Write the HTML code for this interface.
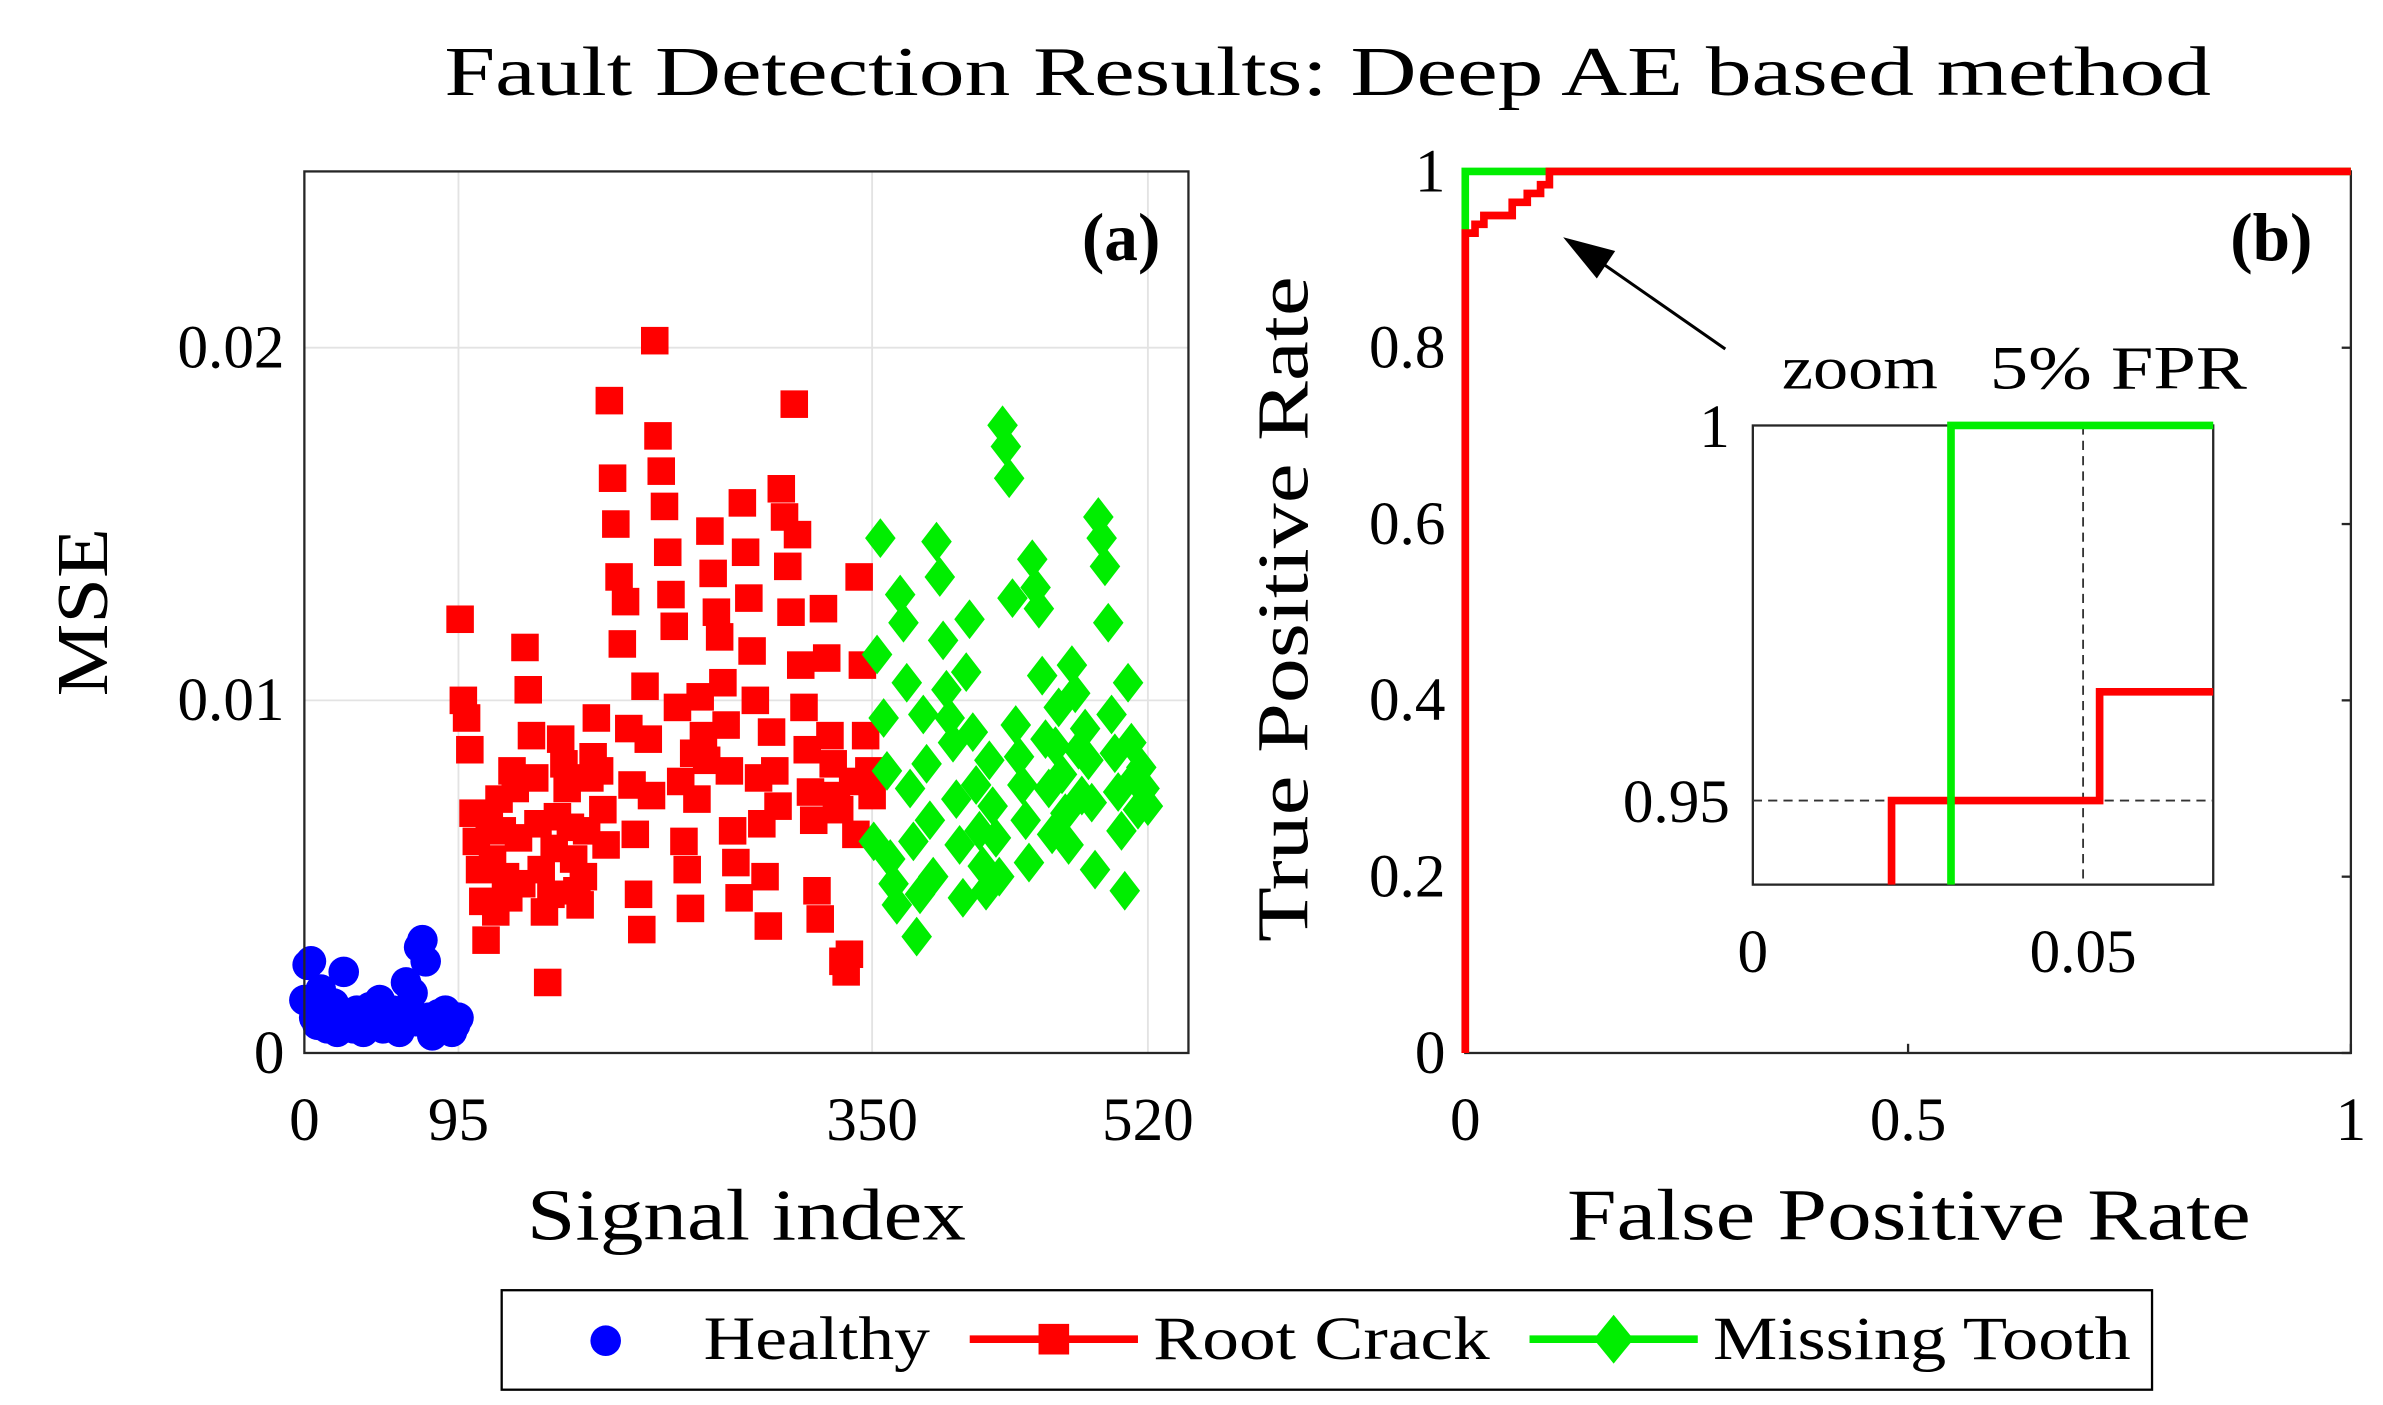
<!DOCTYPE html>
<html><head><meta charset="utf-8">
<style>
html,body{margin:0;padding:0;background:#fff;}
svg{display:block;font-family:"Liberation Serif","DejaVu Serif",serif;}
</style></head>
<body>
<svg id="fig" width="2383" height="1405" viewBox="0 0 1558 918" preserveAspectRatio="none" xmlns="http://www.w3.org/2000/svg">
<text x="868" y="62" font-size="46" text-anchor="middle" textLength="1155" lengthAdjust="spacingAndGlyphs">Fault Detection Results: Deep AE based method</text>
<g id="pa"></g>
<g id="pb"></g>
<g id="leg">
<rect x="328" y="843" width="1079" height="65" fill="#fff" stroke="#000" stroke-width="1.5"/>
<circle cx="396" cy="876" r="10" fill="#0000ff"/>
<text x="460" y="888" font-size="40" textLength="148" lengthAdjust="spacingAndGlyphs">Healthy</text>
<line x1="634" y1="875" x2="744" y2="875" stroke="#ff0000" stroke-width="5"/>
<rect x="679" y="865" width="20" height="20" fill="#ff0000"/>
<text x="754" y="888" font-size="40" textLength="220" lengthAdjust="spacingAndGlyphs">Root Crack</text>
<line x1="1000" y1="875" x2="1110" y2="875" stroke="#00ee00" stroke-width="5"/>
<polygon points="1055,859 1068,875 1055,891 1042,875" fill="#00ee00"/>
<text x="1120" y="888" font-size="40" textLength="273" lengthAdjust="spacingAndGlyphs">Missing Tooth</text>
</g>
</svg>
<script>
// ---- Panel (a) data (MSE in units of 1e-3) ----
const healthyRange = [0, 95];
const healthyMSE = [1.5,2.5,2.6,1.0,0.8,1.8,1.2,0.7,0.9,1.4,0.6,1.0,2.3,1.1,0.8,0.7,1.2,0.9,0.6,1.0,1.3,0.8,0.9,1.5,0.7,1.1,0.9,1.2,0.8,0.6,1.0,2.0,1.3,1.7,0.9,3.0,3.2,2.6,1.0,0.5,0.8,1.1,0.7,1.2,0.9,0.6,0.8,1.0];
const crackRange = [96, 350];
const crackMSE = [12.3,10.0,9.5,8.6,6.8,6.0,5.2,4.3,3.2,6.5,5.5,4.0,7.2,6.3,5.0,4.4,8.0,7.5,6.1,4.8,11.5,10.3,9.0,7.8,6.5,5.2,4.0,2.0,4.5,5.8,6.7,8.9,8.2,7.5,6.4,5.5,4.6,4.2,5.0,6.3,7.8,8.4,9.5,8.0,6.9,5.9,18.5,16.3,15.0,13.5,11.6,12.8,9.2,7.6,6.2,4.5,3.5,10.4,8.9,7.3,20.2,17.5,16.5,15.5,14.2,13.0,12.1,9.8,7.7,6.0,5.2,4.1,8.5,7.2,10.1,9.0,8.3,14.8,13.6,12.5,11.8,10.5,9.3,8.0,6.3,5.4,4.4,15.6,14.2,12.9,11.4,10.0,7.8,6.5,5.0,3.6,9.1,8.0,7.0,16.0,15.2,13.8,12.5,18.4,14.7,11.0,9.8,8.6,7.4,6.6,4.6,3.8,12.6,11.2,9.0,8.2,7.3,6.9,2.6,2.3,2.8,7.7,6.2,13.5,11.0,9.0,8.0,7.3];
const toothRange = [351, 520];
const toothMSE = [6.0,11.3,14.6,9.5,8.0,5.5,4.8,4.2,13.0,12.2,10.5,7.5,6.0,3.3,4.5,9.6,8.2,6.6,5.0,14.5,13.5,11.7,10.3,9.5,8.8,7.2,5.9,4.4,10.8,12.3,9.1,7.6,6.3,5.3,4.6,8.3,7.0,6.1,5.0,17.8,17.2,16.3,12.9,9.3,8.4,7.6,6.6,5.4,14.0,13.2,12.6,10.7,8.9,7.5,6.2,8.7,9.8,7.9,6.8,5.9,11.0,10.2,8.6,7.3,9.2,8.3,7.1,5.2,15.2,14.6,13.8,12.2,9.6,8.5,7.4,6.3,4.6,10.5,8.8,7.8,6.9,8.1,7.5,7.0];
const aXTicks = [0, 95, 350, 520];
const aYTicks = [0, 0.01, 0.02];
const aYLabels = ["0", "0.01", "0.02"];

// ---- Panel (b) data ----
const bXTicks = [0, 0.5, 1];
const bXLabels = ["0", "0.5", "1"];
const bYTicks = [0, 0.2, 0.4, 0.6, 0.8, 1];
const bYLabels = ["0", "0.2", "0.4", "0.6", "0.8", "1"];
const redFPR = [0, 0, 0.011, 0.011, 0.021, 0.021, 0.053, 0.053, 0.07, 0.07, 0.085, 0.085, 0.095, 0.095, 0.11, 1];
const redTPR = [0, 0.93, 0.93, 0.94, 0.94, 0.95, 0.95, 0.965, 0.965, 0.975, 0.975, 0.985, 0.985, 1, 1, 1];
const greenFPR = [0, 0, 1];
const greenTPR = [0, 1, 1];
// inset (zoomed) curves
const insetRedFPR = [0.021, 0.021, 0.0525, 0.0525, 0.0697];
const insetRedTPR = [0.93, 0.95, 0.95, 0.9645, 0.9645];
const insetGreenFPR = [0.03, 0.03, 0.0697];
const insetGreenTPR = [0.93, 1, 1];
const insetXTicks = [0, 0.05];
const insetXLabels = ["0", "0.05"];
const insetYTicks = [0.95, 1];
const insetYLabels = ["0.95", "1"];

const NS = "http://www.w3.org/2000/svg";
function mk(parent, tag, attrs, text) {
  const e = document.createElementNS(NS, tag);
  for (const k in attrs) e.setAttribute(k, attrs[k]);
  if (text !== undefined) e.textContent = text;
  parent.appendChild(e);
  return e;
}

// ---------- Panel A ----------
const pa = document.getElementById('pa');
const A = {l:199, r:777, t:112, b:688, xmax:545, ymax:0.025};
const ax = v => A.l + v / A.xmax * (A.r - A.l);
const ay = v => A.b - v / A.ymax * (A.b - A.t);
let e;
e = mk(pa, 'rect', {x:A.l, y:A.t, width:A.r-A.l, height:A.b-A.t, fill:'#fff'});


aXTicks.forEach(v => {
  if (v > 0) {
    e = mk(pa, 'line', {x1:ax(v), x2:ax(v), y1:A.t, y2:A.b, stroke:'#e3e3e3', 'stroke-width':1.2});
    
    
  }
  e = mk(pa, 'text', {x:ax(v), y:745, 'font-size':40, 'text-anchor':'middle'}, String(v));
  
  
});
aYTicks.forEach((v, i) => {
  if (v > 0) {
    e = mk(pa, 'line', {x1:A.l, x2:A.r, y1:ay(v), y2:ay(v), stroke:'#e3e3e3', 'stroke-width':1.2});
    
    
  }
  e = mk(pa, 'text', {x:186, y:ay(v)+13, 'font-size':40, 'text-anchor':'end'}, aYLabels[i]);
  
  
});
function spread(range, arr, i) { return range[0] + (arr.length > 1 ? i * (range[1]-range[0]) / (arr.length-1) : 0); }
healthyMSE.forEach((v, i) => {
  e = mk(pa, 'circle', {cx:ax(spread(healthyRange, healthyMSE, i)), cy:ay(v/1000), r:10, fill:'#0000ff'});
  
  
});
crackMSE.forEach((v, i) => {
  const x = ax(spread(crackRange, crackMSE, i)), y = ay(v/1000);
  e = mk(pa, 'rect', {x:x-9, y:y-9, width:18, height:18, fill:'#ff0000'});
  
  
});
toothMSE.forEach((v, i) => {
  const x = ax(spread(toothRange, toothMSE, i)), y = ay(v/1000);
  e = mk(pa, 'polygon', {points:`${x},${y-13} ${x+10},${y} ${x},${y+13} ${x-10},${y}`, fill:'#00ee00'});
  
  
});
e = mk(pa, 'rect', {x:A.l, y:A.t, width:A.r-A.l, height:A.b-A.t, fill:'none', stroke:'#262626', 'stroke-width':1.5});


e = mk(pa, 'text', {x:733, y:170, 'font-size':44, 'font-weight':'bold', 'text-anchor':'middle'}, '(a)');


e = mk(pa, 'text', {x:488, y:810, 'font-size':48, 'text-anchor':'middle', textLength:287, lengthAdjust:'spacingAndGlyphs'}, 'Signal index');


e = mk(pa, 'text', {x:0, y:0, 'font-size':48, 'text-anchor':'middle', textLength:110, lengthAdjust:'spacingAndGlyphs', transform:'translate(70,400) rotate(-90)'}, 'MSE');



// ---------- Panel B ----------
const pb = document.getElementById('pb');
const B = {l:958, r:1537, t:112, b:688};
const bx = v => B.l + v * (B.r - B.l);
const by = v => B.b - v * (B.b - B.t);
bXTicks.forEach((v, i) => {
  e = mk(pb, 'line', {x1:bx(v), x2:bx(v), y1:B.b, y2:B.b-6, stroke:'#262626', 'stroke-width':1.5});
  
  
  e = mk(pb, 'text', {x:bx(v), y:745, 'font-size':40, 'text-anchor':'middle'}, bXLabels[i]);
  
  
});
bYTicks.forEach((v, i) => {
  e = mk(pb, 'line', {x1:B.r, x2:B.r-6, y1:by(v), y2:by(v), stroke:'#262626', 'stroke-width':1.5});
  
  
  e = mk(pb, 'text', {x:945, y:by(v)+13, 'font-size':40, 'text-anchor':'end'}, bYLabels[i]);
  
  
});
e = mk(pb, 'rect', {x:B.l, y:B.t, width:B.r-B.l, height:B.b-B.t, fill:'none', stroke:'#262626', 'stroke-width':1.5});


function pts(fx, fy, X, Y) { return X.map((v, i) => fx(v) + ',' + fy(Y[i])).join(' '); }
e = mk(pb, 'polyline', {points:pts(bx, by, greenFPR, greenTPR), fill:'none', stroke:'#00ee00', 'stroke-width':5});


e = mk(pb, 'polyline', {points:pts(bx, by, redFPR, redTPR), fill:'none', stroke:'#ff0000', 'stroke-width':5});


e = mk(pb, 'text', {x:1485, y:170, 'font-size':44, 'font-weight':'bold', 'text-anchor':'middle'}, '(b)');


e = mk(pb, 'text', {x:1248, y:810, 'font-size':48, 'text-anchor':'middle', textLength:447, lengthAdjust:'spacingAndGlyphs'}, 'False Positive Rate');


e = mk(pb, 'text', {x:0, y:0, 'font-size':48, 'text-anchor':'middle', textLength:435, lengthAdjust:'spacingAndGlyphs', transform:'translate(855,398) rotate(-90)'}, 'True Positive Rate');


// arrow
e = mk(pb, 'line', {x1:1128, y1:228, x2:1036, y2:164, stroke:'#000', 'stroke-width':2});


e = mk(pb, 'polygon', {points:'1022,155 1056,164 1044,182', fill:'#000'});


// inset
const I = {l:1146, r:1447, t:278, b:578, x0:0, x1:0.0697, y0:0.9388, y1:1};
const ix = v => I.l + (v - I.x0) / (I.x1 - I.x0) * (I.r - I.l);
const iy = v => I.b - (v - I.y0) / (I.y1 - I.y0) * (I.b - I.t);
const clipY = v => Math.min(Math.max(v, I.y0), I.y1);
e = mk(pb, 'rect', {x:I.l, y:I.t, width:I.r-I.l, height:I.b-I.t, fill:'#fff', stroke:'#262626', 'stroke-width':1.5});


e = mk(pb, 'line', {x1:I.l, x2:I.r, y1:iy(0.95), y2:iy(0.95), stroke:'#333', 'stroke-width':1.2, 'stroke-dasharray':'6,4'});


e = mk(pb, 'line', {x1:ix(0.05), x2:ix(0.05), y1:I.t, y2:I.b, stroke:'#333', 'stroke-width':1.2, 'stroke-dasharray':'6,4'});


e = mk(pb, 'polyline', {points:insetRedFPR.map((v,i)=>ix(v)+','+iy(clipY(insetRedTPR[i]))).join(' '), fill:'none', stroke:'#ff0000', 'stroke-width':5});


e = mk(pb, 'polyline', {points:insetGreenFPR.map((v,i)=>ix(v)+','+iy(clipY(insetGreenTPR[i]))).join(' '), fill:'none', stroke:'#00ee00', 'stroke-width':5});


insetXTicks.forEach((v, i) => {
  e = mk(pb, 'text', {x:ix(v), y:635, 'font-size':40, 'text-anchor':'middle'}, insetXLabels[i]);
  
  
});
insetYTicks.forEach((v, i) => {
  e = mk(pb, 'text', {x:1131, y:iy(v)+14, 'font-size':40, 'text-anchor':'end'}, insetYLabels[i]);
  
  
});
e = mk(pb, 'text', {x:1216, y:254, 'font-size':40, 'text-anchor':'middle', textLength:102, lengthAdjust:'spacingAndGlyphs'}, 'zoom');


e = mk(pb, 'text', {x:1385, y:254, 'font-size':40, 'text-anchor':'middle', textLength:168, lengthAdjust:'spacingAndGlyphs'}, '5% FPR');


</script>
</body></html>
